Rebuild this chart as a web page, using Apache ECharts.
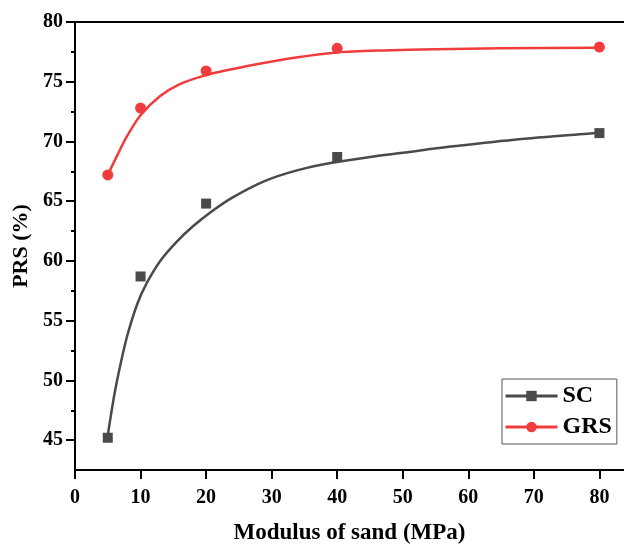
<!DOCTYPE html>
<html>
<head>
<meta charset="utf-8">
<script src="https://cdn.jsdelivr.net/npm/echarts@6/dist/echarts.min.js"></script>
<style>
  html, body { margin: 0; padding: 0; background: #fff; }
  #chart { width: 624px; height: 545px; }
</style>
</head>
<body>
<div id="chart"></div>
<script>
// measured points
var modulus = [5, 10, 20, 40, 80];
var scValues = [45.2, 58.7, 64.8, 68.7, 70.7];
var grsValues = [67.2, 72.8, 75.9, 77.8, 77.9];

// fitted curves
var scFitX = [5, 6, 7, 8, 9.5, 11, 13, 15.5, 18, 21, 24, 29, 34, 39, 45, 50, 57, 67, 77, 80];
var scFitY = [45.4, 48.8, 51.5, 53.8, 56.4, 58.2, 60.0, 61.6, 62.9, 64.2, 65.3, 66.7, 67.6, 68.2, 68.7, 69.05, 69.55, 70.15, 70.6, 70.7];
var grsFitX = [5, 6.5, 8, 10, 13, 16, 20, 23.5, 27.5, 34, 40, 47, 55, 65, 80];
var grsFitY = [67.2, 68.9, 70.5, 72.2, 73.8, 74.8, 75.55, 76.0, 76.45, 77.05, 77.45, 77.62, 77.72, 77.8, 77.85];

var xTicks = [0, 10, 20, 30, 40, 50, 60, 70, 80];
var yTicks = [45, 50, 55, 60, 65, 70, 75, 80];
var yMinorTicks = [47.5, 52.5, 57.5, 62.5, 67.5, 72.5, 77.5];

var scColor = "#4a4a4a";
var grsColor = "#f03c3c";
var font = "Liberation Serif";

function pairs(xs, ys) {
  return xs.map(function (x, i) { return [x, ys[i]]; });
}

var myChart = echarts.init(document.getElementById("chart"));
var option = {
  animation: false,
  grid: { left: 75, right: 0, top: 22, bottom: 75, outerBoundsMode: "none" },
  legend: {
    data: ["SC", "GRS"],
    orient: "vertical",
    left: 502,
    top: 379,
    padding: [5, 5, 5, 2],
    itemGap: 7,
    itemWidth: 52,
    itemHeight: 13,
    borderColor: "#555",
    borderWidth: 1,
    lineStyle: { width: 3 },
    textStyle: { fontFamily: font, fontWeight: "bold", fontSize: 24, lineHeight: 22, color: "#000" }
  },
  xAxis: [
    {
      type: "value",
      min: 0,
      max: 83.75,
      name: "Modulus of sand (MPa)",
      nameLocation: "middle",
      nameGap: 52,
      nameTextStyle: { fontFamily: font, fontWeight: "bold", fontSize: 23, color: "#000" },
      axisLine: { lineStyle: { color: "#000", width: 2 } },
      axisTick: { customValues: xTicks, length: 9, lineStyle: { color: "#000", width: 2 } },
      axisLabel: { customValues: xTicks, margin: 18, fontFamily: font, fontWeight: "bold", fontSize: 20, color: "#000" },
      splitLine: { show: false }
    },
    {
      type: "value",
      position: "top",
      min: 0,
      max: 83.75,
      axisLine: { show: true, lineStyle: { color: "#000", width: 2 } },
      axisTick: { show: false },
      axisLabel: { show: false },
      splitLine: { show: false }
    }
  ],
  yAxis: [
    {
      type: "value",
      min: 42.5,
      max: 80,
      name: "PRS (%)",
      nameLocation: "middle",
      nameGap: 41,
      nameTextStyle: { fontFamily: font, fontWeight: "bold", fontSize: 22, color: "#000" },
      axisLine: { show: true, lineStyle: { color: "#000", width: 2 } },
      axisTick: { show: true, customValues: yTicks, length: 9, lineStyle: { color: "#000", width: 2 } },
      axisLabel: { customValues: yTicks, margin: 12, fontFamily: font, fontWeight: "bold", fontSize: 20, color: "#000" },
      splitLine: { show: false }
    },
    {
      type: "value",
      position: "left",
      min: 42.5,
      max: 80,
      axisLine: { show: false },
      axisTick: { show: true, customValues: yMinorTicks, length: 4, lineStyle: { color: "#000", width: 2 } },
      axisLabel: { show: false },
      splitLine: { show: false }
    }
  ],
  series: [
    {
      name: "SC",
      type: "line",
      data: pairs(scFitX, scFitY),
      smooth: 0.3,
      showSymbol: false,
      symbol: "rect",
      color: scColor,
      lineStyle: { color: scColor, width: 2.5 },
      z: 2
    },
    {
      name: "GRS",
      type: "line",
      data: pairs(grsFitX, grsFitY),
      smooth: 0.3,
      showSymbol: false,
      symbol: "circle",
      color: grsColor,
      lineStyle: { color: grsColor, width: 2.5 },
      z: 2
    },
    {
      name: "SC",
      type: "scatter",
      data: pairs(modulus, scValues),
      symbol: "rect",
      symbolSize: 10,
      itemStyle: { color: scColor, opacity: 1 },
      z: 3
    },
    {
      name: "GRS",
      type: "scatter",
      data: pairs(modulus, grsValues),
      symbol: "circle",
      symbolSize: 11,
      itemStyle: { color: grsColor, opacity: 1 },
      z: 3
    }
  ]
};
myChart.setOption(option);
</script>
</body>
</html>
